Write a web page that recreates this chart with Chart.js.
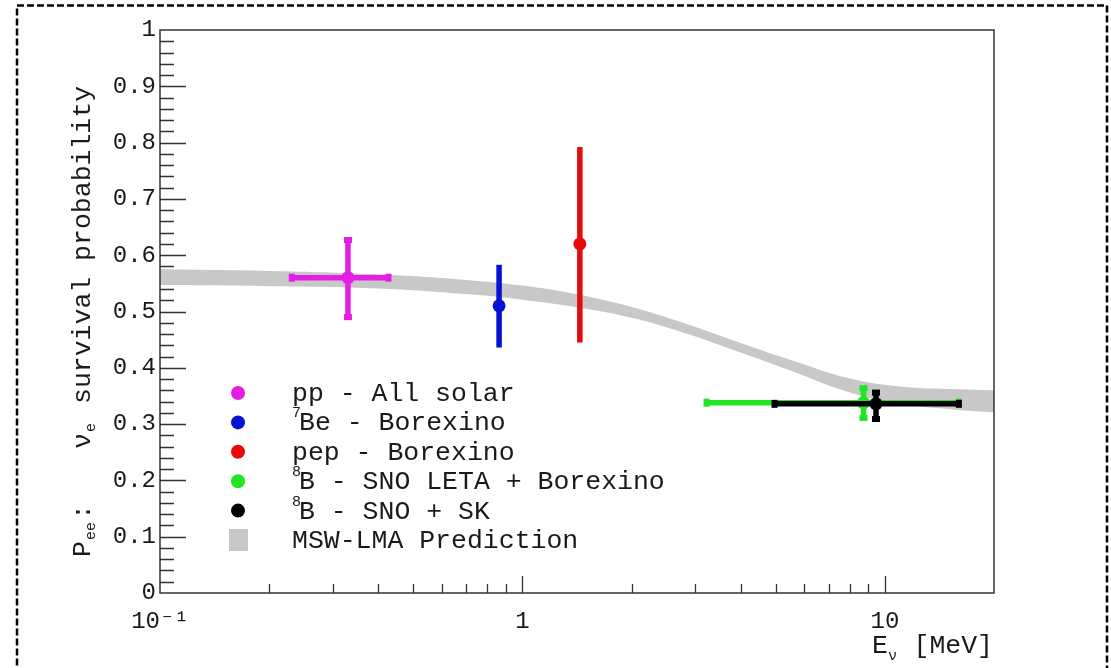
<!DOCTYPE html>
<html>
<head>
<meta charset="utf-8">
<script src="https://cdn.jsdelivr.net/npm/chart.js@4.4.1/dist/chart.umd.min.js"></script>
<style>
  html, body { margin: 0; padding: 0; background: #fff; }
  #wrap { width: 1111px; height: 668px; position: relative; }
</style>
</head>
<body>
<div id="wrap"><canvas id="myChart"></canvas></div>
<script>
// solar neutrino measurements
var sourceNames = ['pp - All solar', '\u2077Be - Borexino', 'pep - Borexino', '\u2078B - SNO LETA + Borexino', '\u2078B - SNO + SK'];
var legendSup = ['', '7', '', '8', '8'];
var legendText = ['pp - All solar', 'Be - Borexino', 'pep - Borexino', 'B - SNO LETA + Borexino', 'B - SNO + SK'];
var colors = ['#e41ee4', '#0512d2', '#e80a0a', '#22e622', '#000000'];

var energy = [0.33, 0.862, 1.44, 8.73, 9.45];
var energyLow = [0.231, null, null, 3.22, 4.96];
var energyHigh = [0.427, null, null, 16.0, 16.0];
var pee = [0.56, 0.51, 0.62, 0.338, 0.336];
var peeLow = [0.49, 0.436, 0.445, 0.311, 0.309];
var peeHigh = [0.627, 0.583, 0.792, 0.364, 0.356];
var hasCaps = [true, false, false, true, true];

// MSW-LMA band
var bandEnergy = [0.1, 0.2, 0.4, 0.7, 1.0, 1.4, 2.0, 2.8, 4.0, 5.6, 8.0, 11, 16, 20];
var bandLow = [0.547, 0.545, 0.541, 0.531, 0.521, 0.508, 0.489, 0.462, 0.427, 0.393, 0.356, 0.336, 0.325, 0.321];
var bandHigh = [0.575, 0.572, 0.566, 0.556, 0.546, 0.531, 0.508, 0.479, 0.444, 0.412, 0.381, 0.367, 0.362, 0.360];

var xTicks = [0.1, 1, 10];
var xTickLabels = ['10\u207B\u00B9', '1', '10'];
var xMinor = [0.2, 0.3, 0.4, 0.5, 0.6, 0.7, 0.8, 0.9, 2, 3, 4, 5, 6, 7, 8, 9];

var FONT = "'Liberation Mono', 'DejaVu Sans Mono', monospace";
var TXT = '#1a1a1a';
var BAND = '#c8c8c8';

function pts(xv, yv) {
    return xv.map(function(x, i) { return { x: x, y: yv[i] }; });
}

var datasets = [
    { label: 'band low', data: pts(bandEnergy, bandLow), showLine: true, borderWidth: 0, pointRadius: 0,
      tension: 0.4, fill: false, order: 10 },
    { label: 'MSW-LMA Prediction', data: pts(bandEnergy, bandHigh), showLine: true, borderWidth: 0, pointRadius: 0,
      tension: 0.4, fill: '-1', backgroundColor: BAND, order: 10 }
];
sourceNames.forEach(function(name, i) {
    datasets.push({
        label: name,
        data: [{ x: energy[i], y: pee[i] }],
        srcIndex: i,
        pointRadius: 6.5,
        pointBackgroundColor: colors[i],
        pointBorderWidth: 0,
        order: 5 - i
    });
});

var decoPlugin = {
    id: 'deco',
    beforeDatasetsDraw: function(chart) {
        var ctx = chart.ctx, a = chart.chartArea;
        var xs = chart.scales.x, ys = chart.scales.y;
        ctx.save();
        ctx.strokeStyle = '#333';
        ctx.lineWidth = 1.3;
        ctx.beginPath();
        for (var k = 1; k < 50; k++) {
            var v = k / 50;
            var y = Math.round(ys.getPixelForValue(v)) + 0.5;
            var len = (k % 5 === 0) ? 26 : 14;
            ctx.moveTo(a.left, y);
            ctx.lineTo(a.left + len, y);
        }
        xMinor.forEach(function(v) {
            var x = Math.round(xs.getPixelForValue(v)) + 0.5;
            ctx.moveTo(x, a.bottom);
            ctx.lineTo(x, a.bottom - 9);
        });
        [1, 10].forEach(function(v) {
            var x = Math.round(xs.getPixelForValue(v)) + 0.5;
            ctx.moveTo(x, a.bottom);
            ctx.lineTo(x, a.bottom - 17);
        });
        ctx.stroke();
        ctx.restore();
    },
    beforeDatasetDraw: function(chart, args) {
        var ds = chart.data.datasets[args.index];
        if (ds.srcIndex === undefined) return;
        var i = ds.srcIndex;
        var ctx = chart.ctx, a = chart.chartArea;
        var xs = chart.scales.x, ys = chart.scales.y;
        var x = xs.getPixelForValue(energy[i]);
        var y = ys.getPixelForValue(pee[i]);
        var y1 = ys.getPixelForValue(peeLow[i]);
        var y2 = ys.getPixelForValue(peeHigh[i]);
        ctx.save();
        ctx.beginPath();
        ctx.rect(a.left, a.top, a.right - a.left, a.bottom - a.top);
        ctx.clip();
        ctx.strokeStyle = colors[i];
        ctx.fillStyle = colors[i];
        ctx.lineWidth = 5.5;
        ctx.beginPath();
        ctx.moveTo(x, y1);
        ctx.lineTo(x, y2);
        var x1, x2;
        if (energyLow[i] !== null) {
            x1 = xs.getPixelForValue(energyLow[i]);
            x2 = xs.getPixelForValue(energyHigh[i]);
            ctx.moveTo(x1, y);
            ctx.lineTo(x2, y);
        }
        ctx.stroke();
        if (hasCaps[i]) {
            ctx.fillRect(x - 4, y1 - 3, 8, 6);
            ctx.fillRect(x - 4, y2 - 3, 8, 6);
            if (energyLow[i] !== null) {
                ctx.fillRect(x1 - 3, y - 4, 6, 8);
                ctx.fillRect(x2 - 3, y - 4, 6, 8);
            }
        }
        ctx.restore();
    },
    afterDatasetsDraw: function(chart) {
        var ctx = chart.ctx, a = chart.chartArea;
        ctx.save();
        ctx.strokeStyle = '#333';
        ctx.lineWidth = 1.5;
        ctx.strokeRect(a.left, a.top, a.right - a.left, a.bottom - a.top);
        ctx.restore();
    },
    afterDraw: function(chart) {
        var ctx = chart.ctx;
        ctx.save();
        ctx.fillStyle = TXT;

        // y axis title, rotated
        function vtext(text, yPos, size, dx) {
            ctx.save();
            ctx.translate(90 + dx, yPos);
            ctx.rotate(-Math.PI / 2);
            ctx.font = size + 'px ' + FONT;
            ctx.textAlign = 'left';
            ctx.textBaseline = 'alphabetic';
            ctx.fillText(text, 0, 0);
            var w = ctx.measureText(text).width;
            ctx.restore();
            return yPos - w;
        }
        var yy = vtext('P', 557, 26.5, 0);
        yy = vtext('ee', yy - 1, 15, 5);
        vtext(':', yy - 2, 26.5, 0);
        yy = vtext('\u03BD', 449, 26.5, 0);
        vtext('e', yy - 1, 15, 5);
        vtext('survival probability', 404, 26.5, 0);

        // x axis title
        ctx.textBaseline = 'alphabetic';
        ctx.textAlign = 'left';
        ctx.font = '26.5px ' + FONT;
        ctx.fillText('E', 872, 653);
        ctx.font = '15px ' + FONT;
        ctx.fillText('\u03BD', 888, 660);
        ctx.textAlign = 'right';
        ctx.font = '26.5px ' + FONT;
        ctx.fillText('[MeV]', 993, 653);

        // legend
        var rowY0 = 393, rowStep = 29.4;
        ctx.textAlign = 'left';
        ctx.textBaseline = 'middle';
        for (var i = 0; i < legendText.length; i++) {
            var ry = rowY0 + i * rowStep;
            ctx.fillStyle = colors[i];
            ctx.beginPath();
            ctx.arc(238, ry, 7, 0, Math.PI * 2);
            ctx.fill();
            ctx.fillStyle = TXT;
            var tx = 292;
            if (legendSup[i]) {
                ctx.font = '15px ' + FONT;
                ctx.fillText(legendSup[i], 292, ry - 9);
                tx = 299;
            }
            ctx.font = '26.5px ' + FONT;
            ctx.fillText(legendText[i], tx, ry + 1);
        }
        var by = rowY0 + 5 * rowStep;
        ctx.fillStyle = BAND;
        ctx.fillRect(229, by - 11, 19, 22);
        ctx.fillStyle = TXT;
        ctx.font = '26.5px ' + FONT;
        ctx.fillText('MSW-LMA Prediction', 292, by + 1);

        // dashed frame around the figure
        ctx.strokeStyle = '#000';
        ctx.lineWidth = 2.5;
        ctx.setLineDash([7, 3]);
        ctx.strokeRect(17, 5.5, 1090, 720);
        ctx.restore();
    }
};

var ctx = document.getElementById('myChart').getContext('2d');
var myChart = new Chart(ctx, {
    type: 'scatter',
    data: { datasets: datasets },
    options: {
        responsive: true,
        maintainAspectRatio: false,
        animation: false,
        events: [],
        layout: { padding: { top: 30, right: 117, left: 0, bottom: 0 } },
        plugins: {
            legend: { display: false },
            tooltip: { enabled: false }
        },
        scales: {
            x: {
                type: 'logarithmic',
                min: 0.1,
                max: 20,
                afterFit: function(s) { s.height = 75; },
                afterBuildTicks: function(s) {
                    s.ticks = xTicks.map(function(v) { return { value: v, major: true }; });
                },
                grid: { display: false, drawTicks: false },
                border: { display: false },
                ticks: {
                    autoSkip: false,
                    maxRotation: 0,
                    padding: 14,
                    color: TXT,
                    font: { family: FONT, size: 24 },
                    callback: function(v, i) { return xTickLabels[i]; }
                }
            },
            y: {
                min: 0,
                max: 1,
                afterFit: function(s) { s.width = 160; },
                grid: { display: false, drawTicks: false },
                border: { display: false },
                ticks: {
                    stepSize: 0.1,
                    padding: 4,
                    color: TXT,
                    font: { family: FONT, size: 24 },
                    callback: function(v) { return String(Math.round(v * 10) / 10); }
                }
            }
        }
    },
    plugins: [decoPlugin]
});
</script>
</body>
</html>
